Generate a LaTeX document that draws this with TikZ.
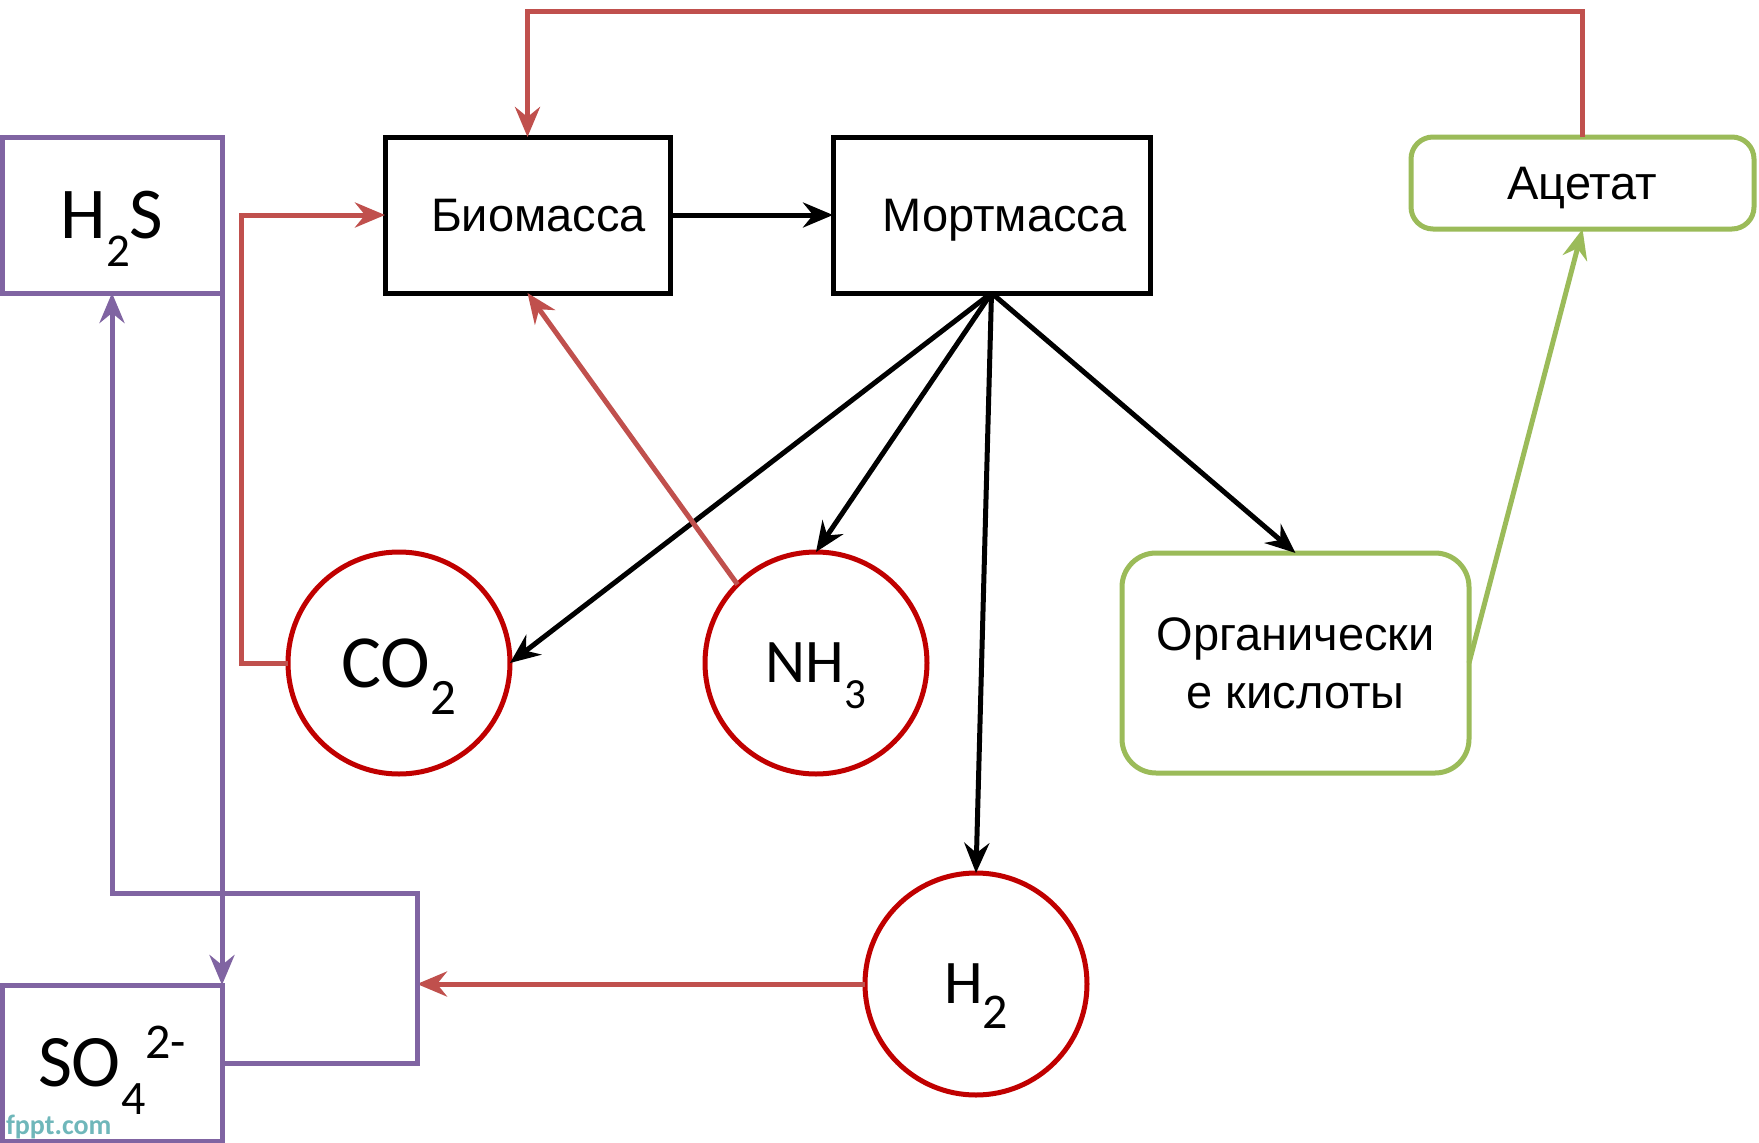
\documentclass[tikz,border=0pt]{standalone}
\usepackage{fontspec}
\setmainfont{Liberation Sans}
\newfontfamily\calib{Carlito}
\usetikzlibrary{arrows.meta}
\definecolor{redl}{HTML}{C0504D}
\definecolor{redc}{HTML}{C00000}
\definecolor{purl}{HTML}{8064A2}
\definecolor{grnl}{HTML}{9BBB59}
\definecolor{wmark}{HTML}{6FB7BA}
\newcommand\chsub[3]{\raisebox{-#2pt}[0pt][0pt]{\fontsize{#1}{#1}\selectfont #3}}
\newcommand\chsup[3]{\raisebox{#2pt}[0pt][0pt]{\fontsize{#1}{#1}\selectfont #3}}
\begin{document}
\begin{tikzpicture}[x=1pt,y=-1pt,
  every node/.style={outer sep=0pt, inner sep=0pt},
  blkbox/.style={draw=black, line width=5pt, minimum width=285pt, minimum height=156pt,
    text depth=0pt, font=\fontsize{47}{56}\selectfont},
  purbox/.style={draw=purl, line width=5pt, minimum width=220pt, minimum height=156pt},
  grnbox/.style={draw=grnl, line width=5pt, rounded corners=22pt,
    font=\fontsize{47}{58}\selectfont, align=center},
  circ/.style={draw=redc, line width=5pt, circle, minimum size=222pt},
  arr/.style={line width=5pt, -{Stealth[length=30pt, width=25pt, inset=10pt]}},
  blk/.style={arr, draw=black},
  redarr/.style={arr, draw=redl},
  purarr/.style={arr, draw=purl},
  grnarr/.style={arr, draw=grnl}]
\useasboundingbox[fill=white] (0,0) rectangle (1759,1143);

% boxes
\node[purbox] (h2s) at (112,215) {\calib\fontsize{73}{80}\selectfont H\chsub{47}{28}{2}S};
\node[blkbox] (bio) at (527.5,215) {\hspace*{22pt}Биомасса};
\node[blkbox, minimum width=317pt] (mort) at (991.5,215) {\hspace*{26pt}Мортмасса};
\node[grnbox, minimum width=343pt, minimum height=92pt, text depth=0pt] (acet) at (1582.5,183) {Ацетат};
\node[grnbox, minimum width=347pt, minimum height=220pt, rounded corners=34pt] (org) at (1295.5,663) {Органически\\е кислоты};
\node[circ] (co2) at (399,663) {\calib\fontsize{75}{80}\selectfont CO\chsub{51}{27}{2}};
\node[circ] (nh3) at (816,663) {\calib\fontsize{62}{70}\selectfont NH\chsub{43}{26}{3}};
\node[circ] (h2) at (976,984) {\calib\fontsize{62}{70}\selectfont H\chsub{50}{25}{2}};
\node[purbox] (so4) at (112,1063) {\calib\fontsize{74}{80}\selectfont SO\chsub{48}{28}{4}\chsup{50}{28}{2-}};
\node[anchor=base west, text=wmark, font=\calib\bfseries\fontsize{28}{30}\selectfont] (wm) at (6,1134) {fppt.com};

% black arrows
\draw[blk] (bio.east) -- (mort.west);
\draw[blk] (mort.south) -- (co2.east);
\draw[blk] (mort.south) -- (nh3.north);
\draw[blk] (mort.south) -- (h2.north);
\draw[blk] (mort.south) -- (org.north);

% red arrows
\draw[redarr] (nh3.north west) -- (bio.south);
\draw[redarr] (co2.west) -- ++(-47,0) |- (bio.west);
\draw[redarr] (acet.north) -- ++(0,-126) -| (bio.north);
\coordinate (loopin) at (417,984);
\draw[redarr] (h2.west) -- (loopin);

% green
\draw[grnarr] (org.east) -- (acet.south);

% purple
\draw[purarr] (h2s.south east) -- (so4.north east);
\draw[purarr] (so4.east) -- ++(195,0) -- ++(0,-170) -| (h2s.south);
\end{tikzpicture}
\end{document}
